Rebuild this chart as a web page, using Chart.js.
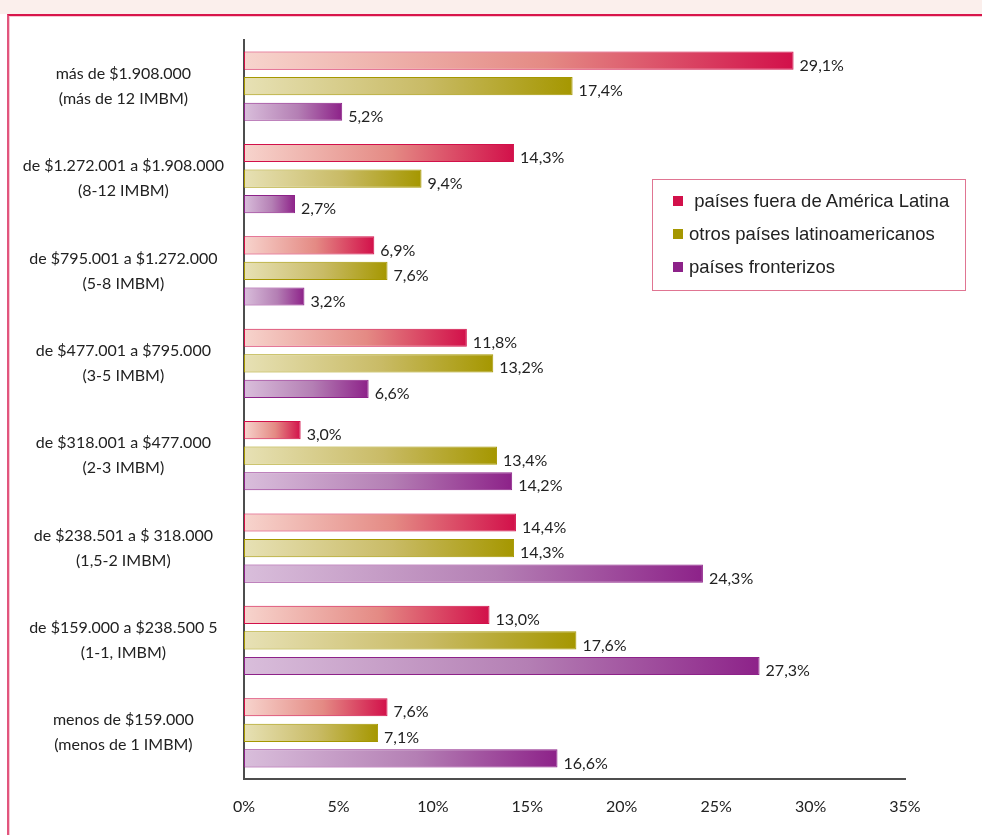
<!DOCTYPE html>
<html>
<head>
<meta charset="utf-8">
<script src="https://cdn.jsdelivr.net/npm/chart.js@4/dist/chart.umd.min.js"></script>
<style>
    body { margin: 0; background: #fff; }
    #wrap { position: relative; width: 982px; height: 835px; overflow: hidden; }
    #band { position: absolute; left: 0; top: 0; width: 982px; height: 14px; background: #fbefec; }
    #frame {
        position: absolute; left: 7px; top: 14px; width: 990px; height: 840px;
        border-top: 2px solid #d8154b; border-left: 2px solid #e2557d;
        box-shadow: inset 1px 1px 0 #f6c9d4;
    }
    canvas { position: absolute; left: 0; top: 0; }
    #legend {
        position: absolute; left: 652px; top: 179px; width: 314px; height: 112px;
        border: 1px solid #e07592; box-sizing: border-box;
        font-family: "Liberation Sans", Arial, sans-serif; font-size: 18.5px; color: #222;
        padding-top: 10px;
    }
    .item { position: relative; height: 33px; line-height: 22px; padding-left: 36px; white-space: pre; }
    .item span { position: absolute; left: 20px; top: 6px; width: 10px; height: 10px; }
</style>
</head>
<body>
<div id="wrap">
    <div id="band"></div>
    <div id="frame"></div>
    <canvas id="income-chart" width="982" height="835"></canvas>
    <div id="legend"></div>
</div>
<script>
const $ = document.querySelector.bind(document)

const categories = [
    ["más de $1.908.000", "(más de 12 IMBM)"],
    ["de $1.272.001 a $1.908.000", "(8-12 IMBM)"],
    ["de $795.001 a $1.272.000", "(5-8 IMBM)"],
    ["de $477.001 a $795.000", "(3-5 IMBM)"],
    ["de $318.001 a $477.000", "(2-3 IMBM)"],
    ["de $238.501 a $ 318.000", "(1,5-2 IMBM)"],
    ["de $159.000 a $238.500 5", "(1-1, IMBM)"],
    ["menos de $159.000", "(menos de 1 IMBM)"],
]
const seriesNames = [" países fuera de América Latina", "otros países latinoamericanos", "países fronterizos"]
const fueraAL = [29.1, 14.3, 6.9, 11.8, 3.0, 14.4, 13.0, 7.6]
const otrosLA = [17.4, 9.4, 7.6, 13.2, 13.4, 14.3, 17.6, 7.1]
const fronterizos = [5.2, 2.7, 3.2, 6.6, 14.2, 24.3, 27.3, 16.6]
const xTicks = [0, 5, 10, 15, 20, 25, 30, 35]

const darkColors = ["#d2104a", "#a59700", "#8d2289"]
const midColors = ["#e48a84", "#c9bb66", "#b47fb4"]
const lightColors = ["#f7d4cd", "#e7e1b5", "#d9bedb"]

const fontLabel = "Lato, 'Open Sans', sans-serif"

// bars fade from light at the axis to the full colour at their end
function barGradient(i) {
    return (c) => {
        const chart = c.chart
        if (!chart.chartArea || c.type !== "data") return darkColors[i]
        const x = chart.scales.x
        const x0 = x.getPixelForValue(0)
        const x1 = x.getPixelForValue(c.raw)
        const g = chart.ctx.createLinearGradient(x0, 0, Math.max(x1, x0 + 1), 0)
        g.addColorStop(0, lightColors[i])
        g.addColorStop(0.55, midColors[i])
        g.addColorStop(1, darkColors[i])
        return g
    }
}

const valueLabels = {
    id: "valueLabels",
    afterDatasetsDraw(chart) {
        const c = chart.ctx
        c.save()
        c.font = `16px ${fontLabel}`
        c.fillStyle = "#222"
        c.textBaseline = "middle"
        c.textAlign = "left"
        chart.data.datasets.forEach((ds, i) => {
            chart.getDatasetMeta(i).data.forEach((bar, j) => {
                const txt = ds.data[j].toFixed(1).replace(".", ",") + "%"
                c.fillText(txt, bar.x + 6, bar.y + 5)
            })
        })
        c.restore()
    }
}

const seriesData = [fueraAL, otrosLA, fronterizos]

new Chart($("#income-chart"), {
    type: "bar",
    data: {
        labels: categories,
        datasets: seriesData.map((d, i) => ({
            label: seriesNames[i],
            data: d,
            backgroundColor: barGradient(i),
            borderColor: darkColors[i],
            borderWidth: 1,
            borderSkipped: false,
            barPercentage: 0.71,
            categoryPercentage: 0.83,
        }))
    },
    options: {
        indexAxis: "y",
        responsive: false,
        animation: false,
        devicePixelRatio: 1,
        layout: { padding: { top: 40, right: 77, left: 0, bottom: 0 } },
        scales: {
            x: {
                min: 0,
                max: 35,
                afterFit: (s) => { s.height = 56; s.paddingLeft = 0; s.paddingRight = 0 },
                afterBuildTicks: (s) => { s.ticks = xTicks.map(v => ({ value: v })) },
                grid: { display: false, drawTicks: false },
                border: { display: true, color: "#4d4d4d", width: 2 },
                ticks: {
                    padding: 18,
                    color: "#222",
                    font: { family: fontLabel, size: 16 },
                    callback: (v) => `${v}%`,
                }
            },
            y: {
                afterFit: (s) => { s.width = 244; s.paddingTop = 0; s.paddingBottom = 0 },
                grid: { display: false, drawTicks: false },
                border: { display: true, color: "#4d4d4d", width: 2 },
                ticks: {
                    padding: 20,
                    crossAlign: "center",
                    color: "#222",
                    font: { family: fontLabel, size: 16, lineHeight: 1.56 },
                }
            }
        },
        plugins: {
            legend: { display: false },
            tooltip: { enabled: false }
        }
    },
    plugins: [valueLabels]
})

// legend box on the right
const legend = $("#legend")
seriesNames.forEach((name, i) => {
    const item = document.createElement("div")
    item.className = "item"
    item.textContent = name
    const sw = document.createElement("span")
    sw.style.background = darkColors[i]
    item.appendChild(sw)
    legend.appendChild(item)
})
</script>
</body>
</html>
